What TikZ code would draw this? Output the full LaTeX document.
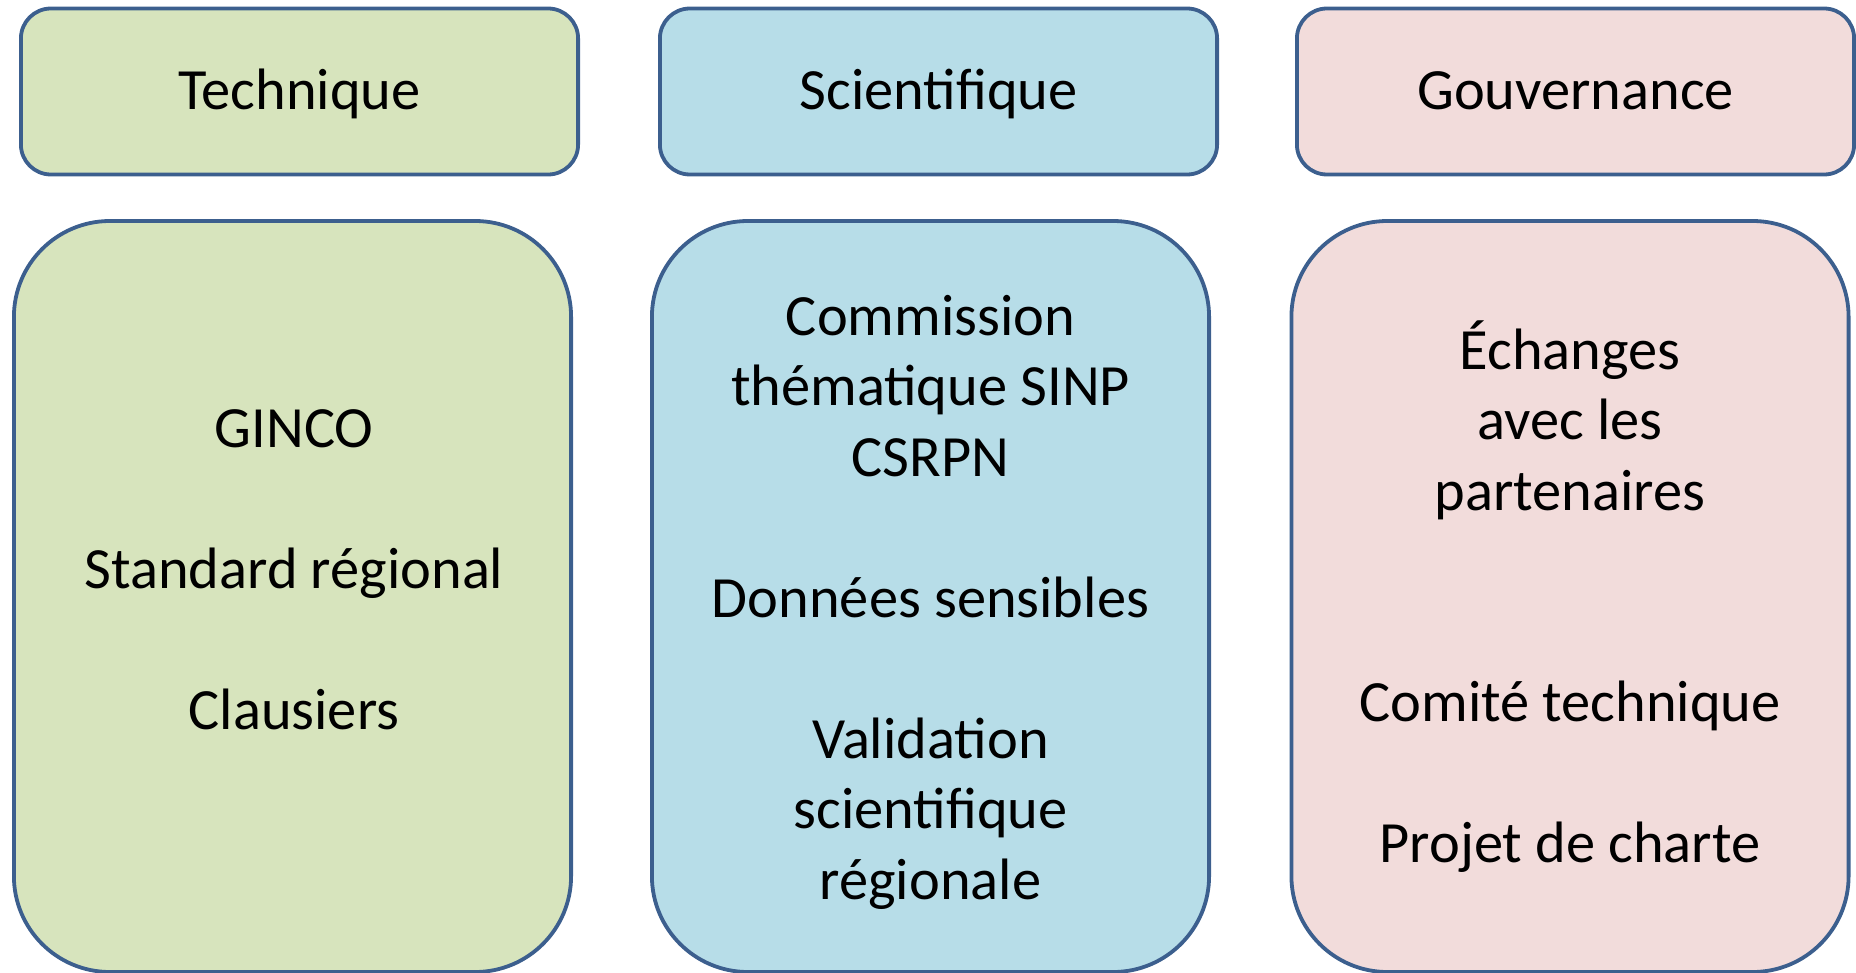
\documentclass[tikz,border=0pt]{standalone}
\usepackage{fontspec}
\setmainfont{Carlito}
\usepackage{tikz}
\usetikzlibrary{positioning}
\definecolor{edgeblue}{HTML}{3C5F8E}
\definecolor{techgreen}{HTML}{D7E4BD}
\definecolor{scibleu}{HTML}{B7DDE8}
\definecolor{govpink}{HTML}{F2DCDB}
\tikzset{
  head/.style={draw=edgeblue, line width=1.9pt, rounded corners=15pt,
    minimum width=278.6pt, minimum height=83pt, inner sep=0pt},
  pillar/.style={draw=edgeblue, line width=1.9pt, rounded corners=48pt,
    minimum width=278.6pt, minimum height=375.5pt, inner sep=0pt},
  label/.style={font=\fontsize{29.2}{35.25}\selectfont, inner sep=0pt},
  item/.style={label, align=center, anchor=base}
}

\begin{document}
\begin{tikzpicture}[x=0.5pt, y=-0.5pt]
\useasboundingbox (0,0) rectangle (1856,973);

%0
\node[head, fill=techgreen] (ttech) at (299.5,91.5) {};
\node[head, fill=scibleu] (tsci) at (938.5,91.5) {};
\node[head, fill=govpink] (tgov) at (1575.5,91.5) {};
\node[label, anchor=base] at (299.5,110) {Technique};
\node[label, anchor=base] at (938.5,110) {Scientifique};
\node[label, anchor=base] at (1575.5,110) {Gouvernance};

%1
\node[pillar, fill=techgreen] (ptech) at (292.5,596.5) {};
\node[item] (ginco) at (294,447) {GINCO};
\node[item] (standard) at (294,588) {Standard régional};
\node[item] (clausiers) at (294,729) {Clausiers};

%2
\node[pillar, fill=scibleu] (psci) at (930.5,596.5) {};
\node[item] (commission) at (930.5,476) {Commission\\thématique SINP\\CSRPN};
\node[item] (sensibles) at (930.5,617) {Données sensibles};
\node[item] (validation) at (930.5,899) {Validation\\scientifique\\régionale};

%3
\node[pillar, fill=govpink] (pgov) at (1570,596.5) {};
\node[item] (echanges) at (1570,510) {Échanges\\avec les\\partenaires};
\node[item] (comite) at (1570,721) {Comité technique};
\node[item] (charte) at (1570,862) {Projet de charte};

\end{tikzpicture}
\end{document}
